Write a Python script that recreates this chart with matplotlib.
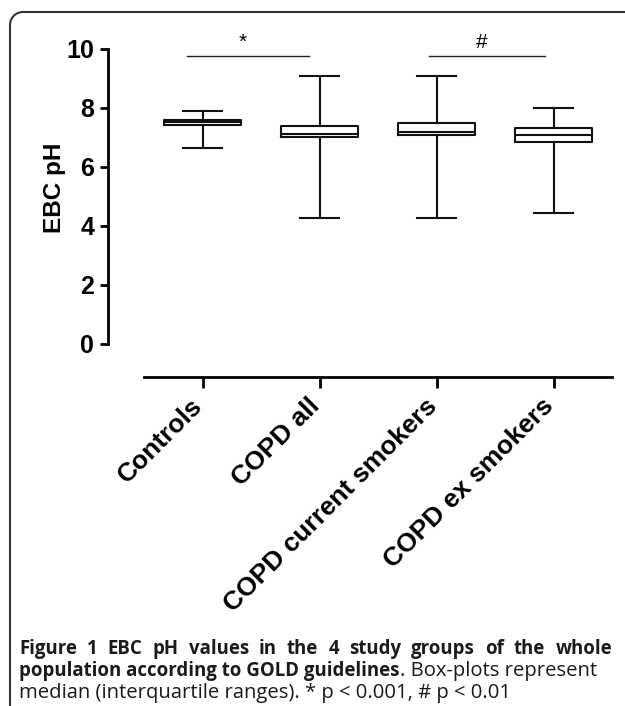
import matplotlib
matplotlib.use("Agg")
from matplotlib import pyplot as plt
from matplotlib import transforms
import numpy as np

groups = ["Controls", "COPD all", "COPD current smokers", "COPD ex smokers"]
medians = [7.52, 7.12, 7.20, 7.10]
q1 = [7.44, 7.03, 7.08, 6.86]
q3 = [7.60, 7.39, 7.50, 7.33]
whislo = [6.65, 4.28, 4.28, 4.45]
whishi = [7.90, 9.10, 9.10, 8.00]

# significance bars: (x start, x end, label)
sig_bars = [(-0.13, 0.91, "*"), (1.94, 2.93, "#")]
sig_level = 9.75

caption1 = "Figure 1 EBC pH values in the 4 study groups of the whole"
caption2b = "population according to GOLD guidelines"
caption2r = ". Box-plots represent"
caption3 = "median (interquartile ranges). * p < 0.001, # p < 0.01"

W, H = 625, 706
fig = plt.figure(figsize=(W/100, H/100), dpi=100)
renderer = fig.canvas.get_renderer()

# overlay in pixel coords for the frame and caption
ov = fig.add_axes([0, 0, 1, 1], zorder=-1)
ov.set_xlim(0, W); ov.set_ylim(H, 0); ov.axis('off')
r = 13
t = np.linspace(np.pi, 1.5*np.pi, 20)
cx, cy = 10 + r, 12 + r
fx = np.concatenate([[10], cx + r*np.cos(t), [W + 5]])
fy = np.concatenate([[H + 5], cy + r*np.sin(t), [12]])
ov.plot(fx, fy, color='#333333', lw=1.5, clip_on=False)

fam = ['Open Sans', 'DejaVu Sans']
boldfont = dict(family=fam, fontsize=13.4, fontweight='bold', color='#1a1a1a', va='center')
regfont = dict(family=fam, fontsize=14.6, color='#1a1a1a', va='center')

# first caption line is justified between x=19 and x=612
words = caption1.split()
objs = [ov.text(0, 649, w, **boldfont) for w in words]
widths = [o.get_window_extent(renderer).width for o in objs]
gap = (612 - 19 - sum(widths)) / (len(words) - 1)
x = 19
for o, w in zip(objs, widths):
    o.set_x(x)
    x += w + gap

tb = ov.text(19, 671, caption2b, **boldfont)
bb = tb.get_window_extent(renderer)
ov.text(19 + bb.width, 671, caption2r, **regfont)
ov.text(19, 693, caption3, **regfont)

ax = fig.add_axes([108/W, 1 - 377/H, 504/W, (377 - 25.4)/H])
stats = []
for i in range(len(groups)):
    stats.append(dict(med=medians[i], q1=q1[i], q3=q3[i],
                      whislo=whislo[i], whishi=whishi[i], label=groups[i]))
lw = 1.5
ax.bxp(stats, positions=range(len(groups)), widths=0.65, capwidths=0.34,
       showfliers=False,
       boxprops=dict(color='#111111', lw=lw),
       medianprops=dict(color='#111111', lw=lw),
       whiskerprops=dict(color='#111111', lw=lw),
       capprops=dict(color='#111111', lw=lw))

ax.set_xlim(-0.5 - 36/117, 3.5)
ax.set_ylim(-1.12, 10.8)
for s in ['top', 'right']:
    ax.spines[s].set_visible(False)
ax.spines['left'].set_bounds(0, 10)
ax.spines['bottom'].set_bounds(-0.5, 3.5)
ax.spines['left'].set_linewidth(2)
ax.spines['bottom'].set_linewidth(2)
ax.set_yticks([0, 2, 4, 6, 8, 10])
ax.tick_params(axis='y', length=6, width=2, pad=4, labelsize=18)
ax.tick_params(axis='x', length=8, width=2, pad=4, labelsize=19)
for lab in ax.get_yticklabels():
    lab.set_fontweight('bold'); lab.set_family('Liberation Sans')
ax.set_xticks(range(len(groups)))
ax.set_xticklabels(groups, rotation=45, ha='right', va='top',
                   rotation_mode='anchor', fontweight='bold', family='Liberation Sans')
shift = transforms.ScaledTranslation(-12/100, 0, fig.dpi_scale_trans)
for lab in ax.get_xticklabels():
    lab.set_transform(lab.get_transform() + shift)
ax.set_ylabel("EBC pH", fontsize=17.5, fontweight='bold', family='Liberation Sans')
ax.yaxis.set_label_coords(-0.083, 0.538)
ax.patch.set_alpha(0)

for x0, x1, lab in sig_bars:
    ax.plot([x0, x1], [sig_level, sig_level], color='#222222', lw=1)
    ax.text((x0 + x1)/2 - 0.05, sig_level + 0.15, lab, ha='center', va='bottom',
            fontsize=15, family='Liberation Sans', clip_on=False)

fig.savefig("out.png", dpi=100)
